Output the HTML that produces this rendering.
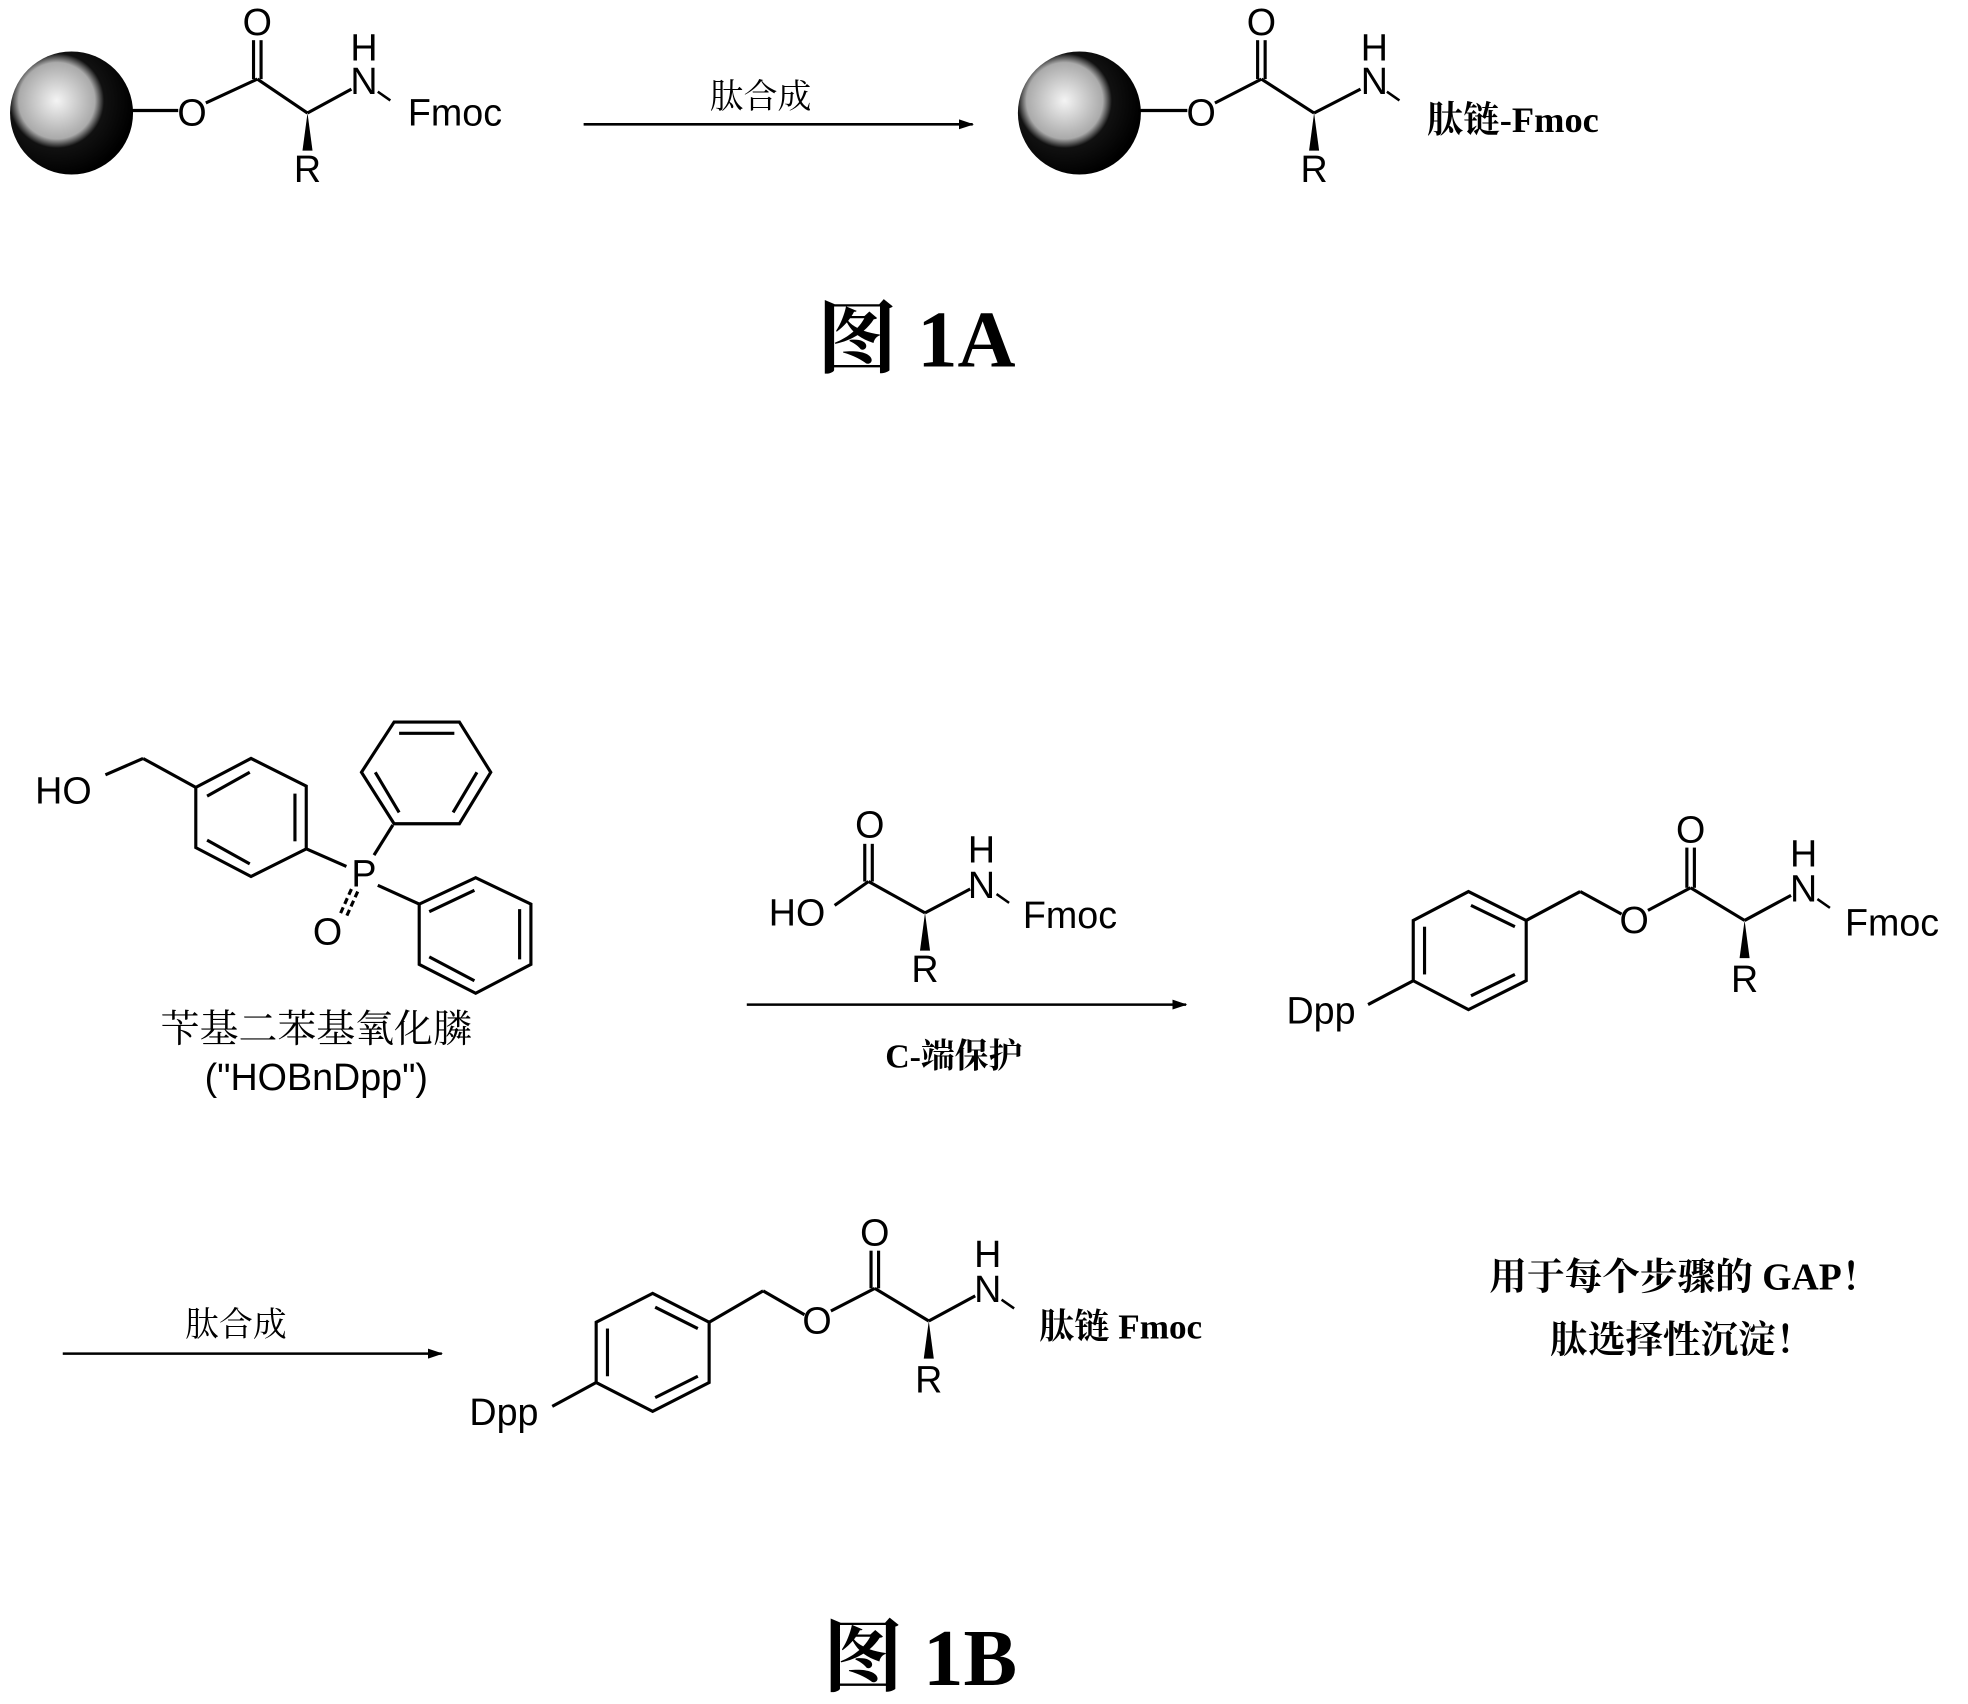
<!DOCTYPE html>
<html><head><meta charset="utf-8"><style>
html,body{margin:0;padding:0;background:#fff;}
svg{display:block}
.t{font-family:"Liberation Sans","Noto Sans CJK SC",sans-serif;font-size:30px;fill:#000}
.c{font-family:"Liberation Serif","Noto Serif CJK SC",serif;font-size:27px;fill:#000}
.f{font-family:"Liberation Serif","Noto Serif CJK SC",serif;font-size:64px;font-weight:bold;fill:#000}
</style></head><body>
<svg width="1968" height="1704" viewBox="0 0 1568 1357" preserveAspectRatio="none" xmlns="http://www.w3.org/2000/svg">
<defs>
<radialGradient id="sp" cx="0.38" cy="0.4" r="0.62">
<stop offset="0" stop-color="#f4f4f4"/><stop offset="0.5" stop-color="#aaa"/><stop offset="0.62" stop-color="#111"/><stop offset="1" stop-color="#000"/>
</radialGradient>
<marker id="ar" markerWidth="12" markerHeight="8" refX="11" refY="4" orient="auto" markerUnits="userSpaceOnUse"><path d="M0,0 L12,4 L0,8 z" fill="#000"/></marker>
</defs>
<g stroke="#000" stroke-width="2.5" fill="none">
<circle cx="57" cy="90" r="49" fill="url(#sp)" stroke="none"/>
<line x1="104" y1="88" x2="142" y2="88"/>
<circle cx="860" cy="90" r="49" fill="url(#sp)" stroke="none"/>
<line x1="907" y1="88" x2="946" y2="88"/>
<line x1="465" y1="99" x2="775" y2="99" stroke-width="2" marker-end="url(#ar)"/>
<line x1="595" y1="800" x2="945" y2="800" stroke-width="2" marker-end="url(#ar)"/>
<line x1="50" y1="1078" x2="352" y2="1078" stroke-width="2" marker-end="url(#ar)"/>
<line x1="84" y1="617" x2="114" y2="604"/><line x1="114" y1="604" x2="156" y2="627"/>
<polygon points="156,627 200,604 244,626 244,676 200,698 156,675"/>
<line x1="165" y1="634" x2="199" y2="615"/><line x1="235" y1="632" x2="235" y2="670"/><line x1="165" y1="669" x2="199" y2="688"/>
<line x1="244" y1="676" x2="276" y2="690"/>
<polygon points="314,575 366,575 391,615 366,656 314,656 288,615"/>
<line x1="318" y1="584" x2="362" y2="584"/><line x1="380" y1="615" x2="361" y2="647"/><line x1="299" y1="615" x2="318" y2="647"/>
<line x1="298" y1="681" x2="313" y2="657"/>
<polygon points="334,720 379,699 423,720 423,768 379,791 334,768"/>
<line x1="342" y1="726" x2="378" y2="709"/><line x1="414" y1="724" x2="414" y2="764"/><line x1="342" y1="762" x2="378" y2="781"/>
<line x1="301" y1="705" x2="334" y2="720"/>
<line x1="280" y1="708" x2="271" y2="728" stroke-dasharray="5,3"/><line x1="285" y1="710" x2="276" y2="730" stroke-dasharray="5,3"/>
<polygon points="1170,710 1216,733 1216,781 1170,804 1126,781 1126,733"/>
<line x1="1172" y1="721" x2="1207" y2="738"/><line x1="1135" y1="738" x2="1135" y2="776"/><line x1="1172" y1="793" x2="1207" y2="776"/>
<line x1="1216" y1="733" x2="1259" y2="710"/><line x1="1259" y1="710" x2="1292" y2="728"/>
<line x1="1126" y1="781" x2="1090" y2="800"/>
<polygon points="520,1030 565,1053 565,1101 520,1124 475,1101 475,1053"/>
<line x1="522" y1="1041" x2="556" y2="1058"/><line x1="484" y1="1058" x2="484" y2="1096"/><line x1="522" y1="1113" x2="556" y2="1096"/>
<line x1="565" y1="1053" x2="608" y2="1028"/><line x1="608" y1="1028" x2="641" y2="1047"/>
<line x1="475" y1="1101" x2="440" y2="1120"/>
</g>
<g transform="translate(153,90)">
<g stroke="#000" stroke-width="2.5" fill="none">
<line x1="11" y1="-8" x2="52" y2="-27"/>
<line x1="49" y1="-27" x2="49" y2="-58"/><line x1="55" y1="-27" x2="55" y2="-58"/>
<line x1="52" y1="-27" x2="92" y2="0"/>
<line x1="92" y1="0" x2="127" y2="-19"/>
<line x1="148" y1="-17" x2="158" y2="-10" stroke-width="2"/>
</g>
<polygon points="92,0 88,30 96,30" fill="#000"/>
<text class="t" x="0" y="10" text-anchor="middle">O</text>
<text class="t" x="52" y="-62" text-anchor="middle">O</text>
<text class="t" x="92" y="55" text-anchor="middle">R</text>
<text class="t" x="137" y="-15" text-anchor="middle">N</text>
<text class="t" x="137" y="-42" text-anchor="middle">H</text>
<text class="t" x="172" y="10">Fmoc</text>
</g>
<g transform="translate(957,90)">
<g stroke="#000" stroke-width="2.5" fill="none">
<line x1="11" y1="-8" x2="48" y2="-27"/>
<line x1="45" y1="-27" x2="45" y2="-58"/><line x1="51" y1="-27" x2="51" y2="-58"/>
<line x1="48" y1="-27" x2="90" y2="0"/>
<line x1="90" y1="0" x2="127" y2="-19"/>
<line x1="148" y1="-17" x2="158" y2="-10" stroke-width="2"/>
</g>
<polygon points="90,0 86,30 94,30" fill="#000"/>
<text class="t" x="0" y="10" text-anchor="middle">O</text>
<text class="t" x="48" y="-62" text-anchor="middle">O</text>
<text class="t" x="90" y="55" text-anchor="middle">R</text>
<text class="t" x="138" y="-15" text-anchor="middle">N</text>
<text class="t" x="138" y="-42" text-anchor="middle">H</text>
<text class="c" x="180" y="15" style="font-weight:bold;font-size:29px">肽链-Fmoc</text>
</g>
<g transform="translate(650,727)">
<g stroke="#000" stroke-width="2.5" fill="none">
<line x1="15" y1="-6" x2="42" y2="-25"/>
<line x1="39" y1="-25" x2="39" y2="-55"/><line x1="45" y1="-25" x2="45" y2="-55"/>
<line x1="42" y1="-25" x2="87" y2="0"/>
<line x1="87" y1="0" x2="123" y2="-19"/>
<line x1="144" y1="-15" x2="154" y2="-8" stroke-width="2"/>
</g>
<polygon points="87,0 83,30 91,30" fill="#000"/>
<text class="t" x="-15" y="10" text-anchor="middle">HO</text>
<text class="t" x="43" y="-60" text-anchor="middle">O</text>
<text class="t" x="87" y="55" text-anchor="middle">R</text>
<text class="t" x="132" y="-12" text-anchor="middle">N</text>
<text class="t" x="132" y="-40" text-anchor="middle">H</text>
<text class="t" x="165" y="12">Fmoc</text>
</g>
<g transform="translate(1302,733)">
<g stroke="#000" stroke-width="2.5" fill="none">
<line x1="11" y1="-8" x2="45" y2="-26"/>
<line x1="42" y1="-26" x2="42" y2="-58"/><line x1="48" y1="-26" x2="48" y2="-58"/>
<line x1="45" y1="-26" x2="88" y2="0"/>
<line x1="88" y1="0" x2="125" y2="-20"/>
<line x1="146" y1="-17" x2="156" y2="-10" stroke-width="2"/>
</g>
<polygon points="88,0 84,30 92,30" fill="#000"/>
<text class="t" x="0" y="10" text-anchor="middle">O</text>
<text class="t" x="45" y="-62" text-anchor="middle">O</text>
<text class="t" x="88" y="57" text-anchor="middle">R</text>
<text class="t" x="135" y="-15" text-anchor="middle">N</text>
<text class="t" x="135" y="-43" text-anchor="middle">H</text>
<text class="t" x="168" y="12">Fmoc</text>
</g>
<g transform="translate(651,1052)">
<g stroke="#000" stroke-width="2.5" fill="none">
<line x1="11" y1="-8" x2="46" y2="-26"/>
<line x1="43" y1="-26" x2="43" y2="-56"/><line x1="49" y1="-26" x2="49" y2="-56"/>
<line x1="46" y1="-26" x2="89" y2="0"/>
<line x1="89" y1="0" x2="126" y2="-20"/>
<line x1="147" y1="-17" x2="157" y2="-10" stroke-width="2"/>
</g>
<polygon points="89,0 85,30 93,30" fill="#000"/>
<text class="t" x="0" y="10" text-anchor="middle">O</text>
<text class="t" x="46" y="-60" text-anchor="middle">O</text>
<text class="t" x="89" y="57" text-anchor="middle">R</text>
<text class="t" x="136" y="-15" text-anchor="middle">N</text>
<text class="t" x="136" y="-43" text-anchor="middle">H</text>
<text class="c" x="177" y="14" style="font-weight:bold;font-size:28px">肽链 Fmoc</text>
</g>
<text class="c" x="606" y="86" text-anchor="middle">肽合成</text>
<text class="f" x="730" y="292" text-anchor="middle">图 1A</text>
<text class="t" x="28" y="640">HO</text>
<text class="t" x="290" y="706" text-anchor="middle">P</text>
<text class="t" x="261" y="752" text-anchor="middle">O</text>
<text class="c" x="252" y="830" text-anchor="middle" style="font-size:31px">苄基二苯基氧化膦</text>
<text class="t" x="252" y="868" text-anchor="middle">("HOBnDpp")</text>
<text class="c" x="760" y="850" text-anchor="middle" style="font-weight:bold">C-端保护</text>
<text class="t" x="1025" y="815">Dpp</text>
<text class="c" x="188" y="1064" text-anchor="middle">肽合成</text>
<text class="t" x="374" y="1135">Dpp</text>
<text class="c" x="1342" y="1027" text-anchor="middle" style="font-weight:bold;font-size:30px">用于每个步骤的 GAP！</text>
<text class="c" x="1340" y="1077" text-anchor="middle" style="font-weight:bold;font-size:30px">肽选择性沉淀！</text>
<text class="f" x="733" y="1342" text-anchor="middle">图 1B</text>
</svg>
</body></html>
